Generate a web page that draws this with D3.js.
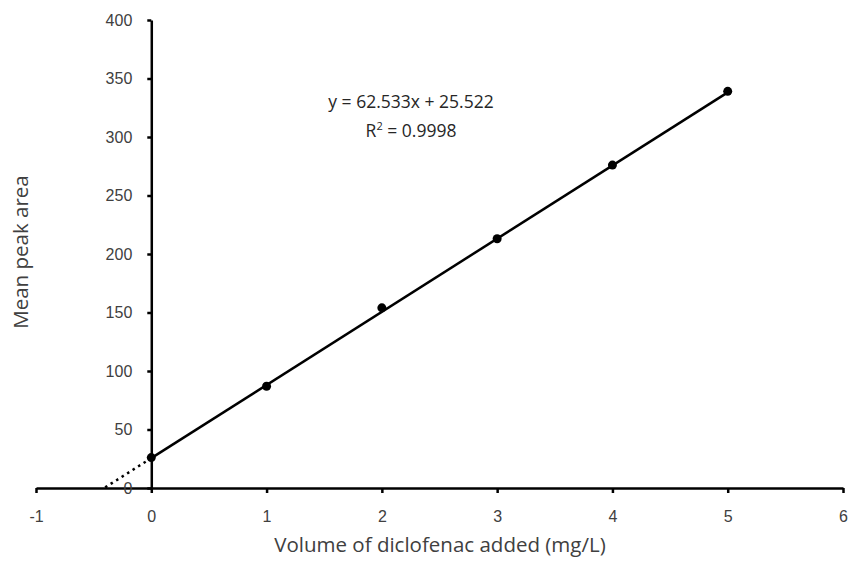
<!DOCTYPE html>
<html>
<head>
<meta charset="utf-8">
<script src="https://cdn.jsdelivr.net/npm/d3@7"></script>
<style>
  html, body { margin: 0; padding: 0; background: #fff; }
  svg { display: block; font-family: "Open Sans", "Noto Sans", sans-serif; }
</style>
</head>
<body>
<svg id="chart" width="851" height="564"></svg>
<script>
// Calibration data: diclofenac concentration vs mean peak area
const concentrations = [0, 1, 2, 3, 4, 5];
const peakAreas = [26, 87, 154, 213, 276, 339];
const xTicks = [-1, 0, 1, 2, 3, 4, 5, 6];
const yTicks = [0, 50, 100, 150, 200, 250, 300, 350, 400];
const fitSlope = 62.533;
const fitIntercept = 25.522;
const fitR2 = 0.9998;
const backwardForecast = 0.4;

const svg = d3.select("#chart");
const x = d3.scaleLinear().domain([-1, 6]).range([36, 843]);
const y = d3.scaleLinear().domain([0, 400]).range([488, 20]);
const ink = "#000";
const textColor = "#404040";
const plain = d => String(d);

// X axis along y = 0
const xAxis = svg.append("g")
  .attr("transform", `translate(0,${y(0)})`)
  .call(d3.axisBottom(x).tickValues(xTicks).tickSize(5).tickSizeOuter(0).tickPadding(18).tickFormat(plain));
xAxis.select(".domain").attr("stroke", ink).attr("stroke-width", 2.5);
xAxis.selectAll(".tick line").attr("stroke", ink).attr("stroke-width", 2.5);
xAxis.selectAll(".tick text").attr("fill", textColor).attr("font-size", 16);

// Y axis along x = 0
const yAxis = svg.append("g")
  .attr("transform", `translate(${x(0)},0)`)
  .call(d3.axisLeft(y).tickValues(yTicks).tickSize(4).tickSizeOuter(0).tickPadding(15).tickFormat(plain));
yAxis.select(".domain").attr("stroke", ink).attr("stroke-width", 2.5);
yAxis.selectAll(".tick line").attr("stroke", ink).attr("stroke-width", 2.5);
yAxis.selectAll(".tick text").attr("fill", textColor).attr("font-size", 16);

// Linear trendline: solid over data range, dotted backward forecast
const fit = v => fitSlope * v + fitIntercept;
const line = d3.line().x(d => x(d)).y(d => y(fit(d)));
svg.append("path")
  .attr("d", line([-backwardForecast, 0]))
  .attr("fill", "none").attr("stroke", ink).attr("stroke-width", 2.5)
  .attr("stroke-dasharray", "2.5,4");
svg.append("path")
  .attr("d", line([0, 5]))
  .attr("fill", "none").attr("stroke", ink).attr("stroke-width", 2.5);

// Data points
svg.append("g").selectAll("circle")
  .data(concentrations.map((c, i) => [c, peakAreas[i]]))
  .join("circle")
  .attr("cx", d => x(d[0]))
  .attr("cy", d => y(d[1]))
  .attr("r", 4.5)
  .attr("fill", ink);

// Trendline equation
const eqX = 411;
const eq = svg.append("text")
  .attr("x", eqX).attr("y", 108)
  .attr("text-anchor", "middle").attr("fill", "#262626").attr("font-size", 17.5);
eq.append("tspan").attr("x", eqX).text(`y = ${fitSlope}x + ${fitIntercept}`);
const r2 = eq.append("tspan").attr("x", eqX).attr("dy", 29);
r2.append("tspan").text("R");
r2.append("tspan").attr("dy", -7).attr("font-size", 11).text("2");
r2.append("tspan").attr("dy", 7).text(` = ${fitR2}`);

// Axis titles
svg.append("text")
  .attr("x", 440).attr("y", 552)
  .attr("text-anchor", "middle").attr("fill", textColor).attr("font-size", 20.5)
  .text("Volume of diclofenac added (mg/L)");
svg.append("text")
  .attr("transform", "translate(28,252) rotate(-90)")
  .attr("text-anchor", "middle").attr("fill", textColor).attr("font-size", 20.5)
  .text("Mean peak area");
</script>
</body>
</html>
